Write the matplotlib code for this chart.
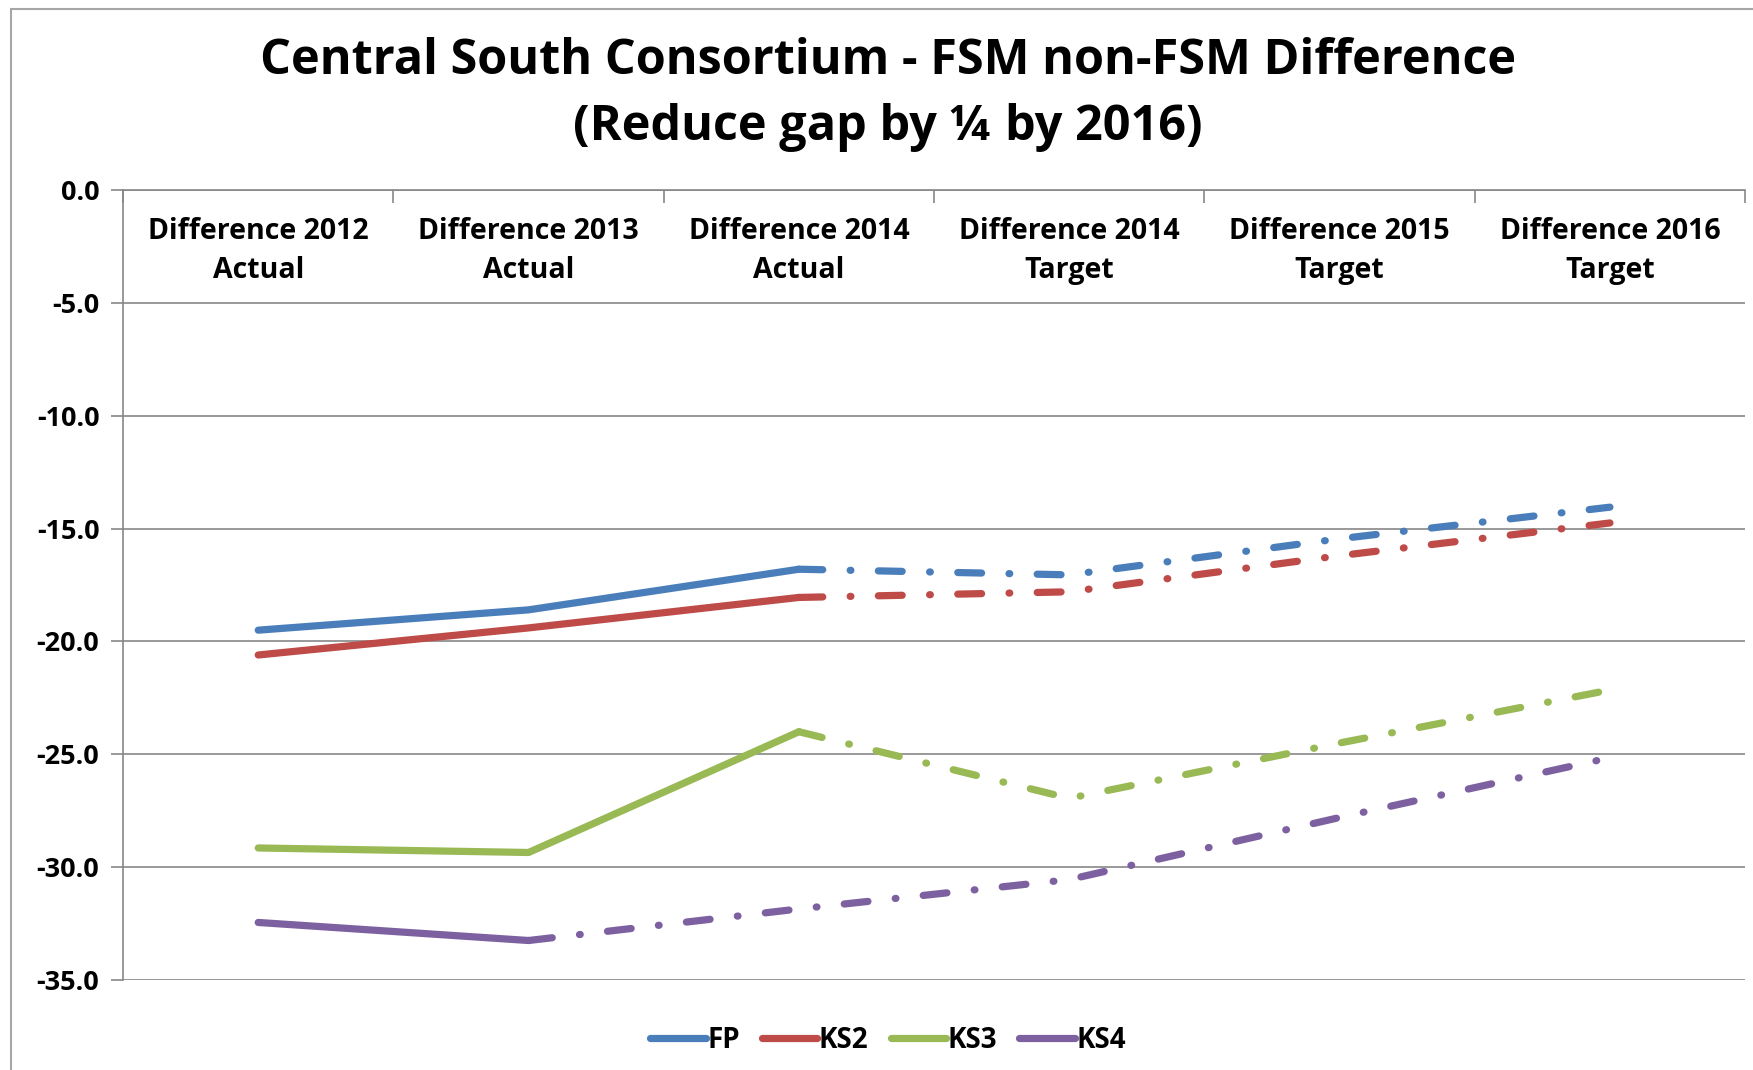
import numpy as np
import matplotlib.pyplot as plt
from matplotlib.patches import Rectangle

plt.rcParams['font.family'] = ['Open Sans', 'DejaVu Sans']
plt.rcParams['font.weight'] = 'bold'

categories = ["Difference 2012\nActual", "Difference 2013\nActual", "Difference 2014\nActual",
              "Difference 2014\nTarget", "Difference 2015\nTarget", "Difference 2016\nTarget"]
series_names = ["FP", "KS2", "KS3", "KS4"]
fp = [-19.5, -18.6, -16.8, -17.05, -15.45, -14.05]
ks2 = [-20.6, -19.4, -18.05, -17.8, -16.2, -14.75]
ks3 = [-29.15, -29.35, -24.0, -26.95, -24.5, -22.15]
ks4 = [-32.45, -33.25, -31.85, -30.55, -27.8, -25.15]
# index of last point drawn with a solid line
solid_end = [2, 2, 2, 1]
colors = ['#4A7EBB', '#BE4B48', '#98B954', '#7D60A0']

fig = plt.figure(figsize=(17.53, 10.70), dpi=100)
ax = fig.add_axes([0.0702, 0.0841, 0.9253, 0.7383])

# outer chart border
fig.patches.append(Rectangle((11 / 1753, -0.05), 1.2, 1 - 9 / 1070 + 0.05,
                             transform=fig.transFigure, fill=False,
                             edgecolor='#A6A6A6', linewidth=1.5))

x = np.arange(len(categories))
lw = 5.2
dashdot = (0, (3.3, 3.8, 0.1, 3.8))
for vals, c, se, name in zip([fp, ks2, ks3, ks4], colors, solid_end, series_names):
    vals = np.array(vals)
    ax.plot(x[:se + 1], vals[:se + 1], color=c, lw=lw, solid_capstyle='round',
            solid_joinstyle='round', zorder=3)
    ax.plot(x[se:], vals[se:], color=c, lw=lw, linestyle=dashdot,
            dash_capstyle='round', zorder=3)

ax.set_xlim(-0.5, 5.5)
ax.set_ylim(-35, 0)
ax.set_yticks(np.arange(-35, 0.1, 5))
ax.set_yticklabels(["%.1f" % v for v in np.arange(-35, 0.1, 5)], fontsize=19.5, fontweight='bold')
ax.tick_params(axis='y', length=9, width=1.2, color='#878787', pad=8)
ax.grid(axis='y', color='#878787', lw=1.2)
ax.set_axisbelow(True)

# category axis sits on the 0 line at top
ax.xaxis.tick_top()
ax.set_xticks(np.arange(-0.5, 5.6, 1))
ax.set_xticklabels([])
ax.tick_params(axis='x', direction='in', length=9, width=1.2, color='#878787')
for i, cat in enumerate(categories):
    ax.text(i, -2.72, cat, ha='center', va='center', fontsize=20.5, fontweight='bold',
            linespacing=1.45)

for s in ['right', 'bottom']:
    ax.spines[s].set_visible(False)
for s in ['left', 'top']:
    ax.spines[s].set_color('#878787')
    ax.spines[s].set_linewidth(1.2)

fig.text(888 / 1753, 1 - 62 / 1070, "Central South Consortium - FSM non-FSM Difference",
         ha='center', va='center', fontsize=35, fontweight='bold')
fig.text(888 / 1753, 1 - 127 / 1070, "(Reduce gap by \u00bc by 2016)",
         ha='center', va='center', fontsize=35, fontweight='bold')

handles = [plt.Line2D([], [], color=c, lw=lw, solid_capstyle='round') for c in colors]
fig.legend(handles, series_names, loc='center', bbox_to_anchor=(888 / 1753, 1 - 1040 / 1070),
           ncol=4, frameon=False, handlelength=2.0, handletextpad=0.05,
           columnspacing=0.8, prop={'weight': 'bold', 'size': 20})

plt.savefig("out.png", dpi=100)
